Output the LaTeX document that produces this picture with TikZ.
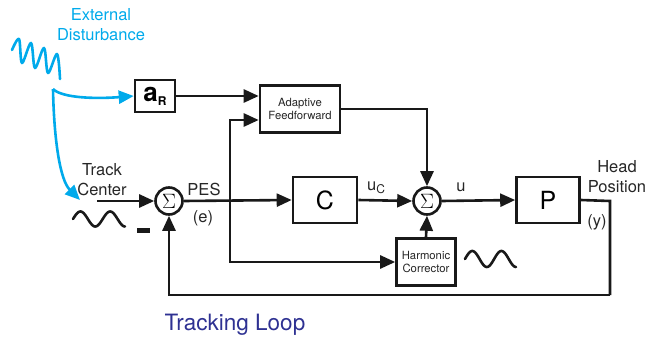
\documentclass[tikz,border=0pt]{standalone}
\usepackage{fontspec}
\setmainfont{TeX Gyre Heros}
\usetikzlibrary{arrows.meta,calc}
\definecolor{distcyan}{RGB}{0,170,235}
\definecolor{loopblue}{RGB}{46,49,146}
\begin{document}
\begin{tikzpicture}[x=1pt,y=-1pt,
  wire/.style={line width=2.6pt,draw=black!90},
  arr/.style={wire,-{Triangle[length=15pt,width=13pt]}},
  carr/.style={line width=2.6pt,draw=distcyan,-{Triangle[length=15pt,width=13pt]},distcyan},
  blockbox/.style={draw=black!90,line width=2.6pt,rectangle,inner sep=0pt,align=center},
  sumnode/.style={draw=black!90,line width=2.6pt,circle,minimum size=27pt,inner sep=0pt,font=\fontsize{22}{22}\selectfont},
  lbl/.style={font=\fontsize{16.5}{20}\selectfont,text=black!85,align=center,inner sep=0pt},
  small/.style={font=\fontsize{11.3}{13}\selectfont,text=black!85}
]
\useasboundingbox (0,0) rectangle (657,340);

% blocks
\node[blockbox,minimum width=40pt,minimum height=32pt] (aR) at (155,96)
  {\fontsize{26}{26}\selectfont\bfseries a\raisebox{-4pt}{\fontsize{12}{12}\selectfont R}};
\node[blockbox,minimum width=80pt,minimum height=47pt,small] (AF) at (300,109) {Adaptive\\Feedforward};
\node[blockbox,minimum width=64pt,minimum height=46pt,font=\fontsize{25}{25}\selectfont] (C) at (325,200) {C};
\node[blockbox,minimum width=63pt,minimum height=46pt,font=\fontsize{25}{25}\selectfont] (P) at (548,200) {P};
\node[blockbox,minimum width=59pt,minimum height=47pt,small] (HC) at (426,262) {Harmonic\\Corrector};
\node[sumnode] (S1) at (169,201) {$\Sigma$};
\node[sumnode] (S2) at (427,201) {$\Sigma$};

% coordinates
\coordinate (tc) at (97,201);
\coordinate (j1) at (230,201);
\coordinate (yr) at (610,201);
\coordinate (fb) at (610,295);

% connectors
\draw[arr] (tc) -- (S1.west);
\draw[arr] (S1.east) -- (C.west);
\draw[arr] (aR.east) -- (aR.east -| AF.west);
\draw[arr] (j1) |- ([yshift=-11pt]AF.west);
\draw[arr] (j1) |- (HC.west);
\draw[arr] (AF.east) -| (S2.north);
\draw[arr] (C.east) -- (S2.west);
\draw[arr] (HC.north) -- (S2.south);
\draw[arr] (S2.east) -- (P.west);
\draw[wire] (P.east) -- (yr) -- (fb);
\draw[arr] (fb) -| (S1.south);

% labels
\node[lbl] (lTrack) at (102,180) {Track\\Center};
\node[lbl] (lPES) at (204,189) {PES};
\node[lbl] (le) at (203,218) {(e)};
\node[lbl] (luc) at (376,188) {u\raisebox{-3pt}{\fontsize{12}{12}\selectfont C}};
\node[lbl] (lu) at (461,187) {u};
\node[lbl] (lHead) at (617,177) {Head\\Position};
\node[lbl] (ly) at (597,222) {(y)};
\fill[black!90] (137,227.5) rectangle (150,232.5);
\node[font=\fontsize{22.5}{24}\selectfont,text=loopblue,inner sep=0pt] (lTL) at (235,325) {Tracking Loop};
\node[lbl,text=distcyan] (lExt) at (101,25) {External\\Disturbance};

% waves
\draw[line width=2.6pt,black!90,line cap=round] plot[domain=0:630,samples=60,smooth] ({73+\x/630*52},{219-7.5*sin(\x)});
\draw[line width=2.6pt,black!90,line cap=round] plot[domain=0:630,samples=60,smooth] ({465+\x/630*51},{259-8*sin(\x)});

% disturbance zigzag
\draw[distcyan,line width=2.6pt,line cap=round,line join=round] plot[smooth,tension=0.55] coordinates
  {(12,50) (19,39) (22,63) (31,43) (35,68) (44,48) (48,73) (57,54) (60,79)};

% cyan arrows
\coordinate (d0) at (53,89);
\draw[carr] (d0) .. controls (62,98) and (95,99) .. (aR.west);
\draw[carr] (d0) .. controls (54,140) and (60,180) .. (80,200);
\end{tikzpicture}
\end{document}
